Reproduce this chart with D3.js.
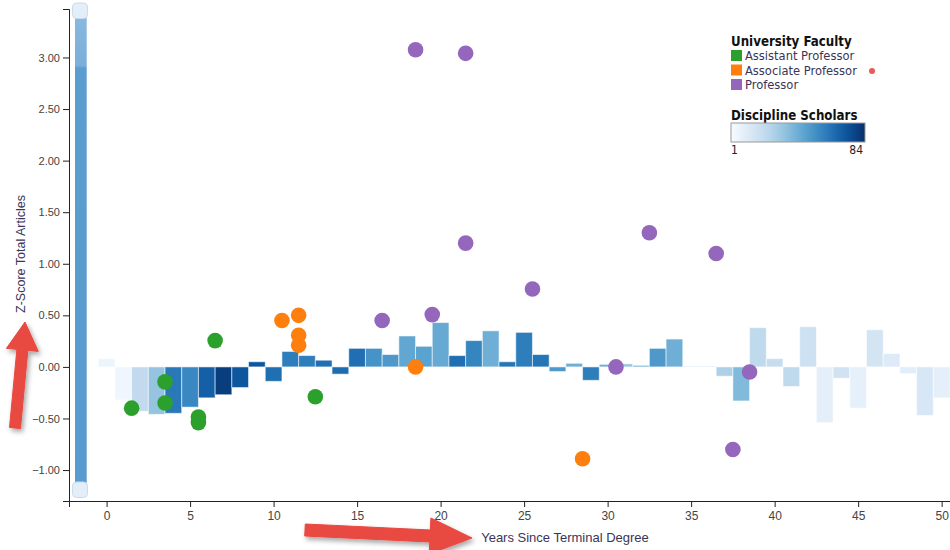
<!DOCTYPE html>
<html>
<head>
<meta charset="utf-8">
<script src="https://cdn.jsdelivr.net/npm/d3@7"></script>
<style>
  html, body { margin: 0; padding: 0; background: #fff; }
  svg { display: block; }
  .tick text { fill: #444; }
</style>
</head>
<body>
<svg id="chart" width="950" height="550"></svg>
<script>
// ---------- DATA ----------
const years = d3.range(0, 51);
const scholarZ = [0.08, -0.32, -0.43, -0.46, -0.45, -0.39, -0.30, -0.27, -0.20, 0.05,
  -0.14, 0.15, 0.11, 0.065, -0.07, 0.18, 0.18, 0.12, 0.30, 0.20,
  0.43, 0.11, 0.255, 0.35, 0.05, 0.335, 0.12, -0.045, 0.035, -0.13,
  0.025, 0.03, 0.015, 0.18, 0.27, 0.007, 0.007, -0.09, -0.33, 0.38,
  0.08, -0.19, 0.39, -0.54, -0.11, -0.40, 0.36, 0.13, -0.065, -0.47, -0.30];
const scholarCount = [5, 4, 22, 34, 61, 56, 69, 80, 72, 72,
  64, 59, 59, 64, 65, 64, 52, 50, 45, 47,
  44, 64, 57, 42, 62, 59, 62, 50, 42, 59,
  42, 33, 42, 50, 42, 22, 22, 28, 38, 23,
  21, 23, 18, 9, 17, 8, 16, 12, 10, 14, 9];

const assistantX = [1.5, 3.5, 3.5, 5.5, 5.5, 6.5, 12.5];
const assistantY = [-0.40, -0.145, -0.35, -0.485, -0.54, 0.255, -0.29];
const associateX = [10.5, 11.5, 11.5, 11.5, 18.5, 28.5];
const associateY = [0.45, 0.50, 0.306, 0.21, 0.0, -0.89];
const professorX = [16.5, 18.5, 19.5, 21.5, 21.5, 25.5, 30.5, 32.5, 36.5, 37.5, 38.5];
const professorY = [0.45, 3.075, 0.507, 3.04, 1.20, 0.756, 0.0, 1.30, 1.10, -0.80, -0.05];

const rankNames = ["Assistant Professor", "Associate Professor", "Professor"];
const rankColors = ["#2ca02c", "#ff7f0e", "#9467bd"];
const xTicks = [0, 5, 10, 15, 20, 25, 30, 35, 40, 45, 50];
const yTicks = [-1, -0.5, 0, 0.5, 1, 1.5, 2, 2.5, 3];
const countRange = [1, 84];

// ---------- SCALES ----------
const svg = d3.select("#chart");
const x = d3.scaleLinear().domain([-2.25, 50.5]).range([69, 950]);
const y = d3.scaleLinear().domain([-1.3, 3.47]).range([501, 9]);
const color = d3.scaleSequential(d3.interpolateBlues).domain(countRange);

// ---------- DEFS ----------
const defs = svg.append("defs");
const grad = defs.append("linearGradient").attr("id", "legendGrad");
d3.range(0, 1.01, 0.1).forEach(t => {
  grad.append("stop").attr("offset", (t * 100) + "%").attr("stop-color", d3.interpolateBlues(t));
});
const sh = defs.append("filter").attr("id", "shadow").attr("x", "-30%").attr("y", "-30%").attr("width", "160%").attr("height", "160%");
sh.append("feDropShadow").attr("dx", 2).attr("dy", 3).attr("stdDeviation", 2.5).attr("flood-color", "#000").attr("flood-opacity", 0.35);
const sg = defs.append("linearGradient").attr("id", "sliderGrad").attr("x1", 0).attr("x2", 0).attr("y1", 0).attr("y2", 1);
sg.append("stop").attr("offset", "0%").attr("stop-color", "#8ab9df");
sg.append("stop").attr("offset", "11%").attr("stop-color", "#79afd9");
sg.append("stop").attr("offset", "11.5%").attr("stop-color", "#5c9dd0");
sg.append("stop").attr("offset", "100%").attr("stop-color", "#5a9bcf");

// ---------- BARS ----------
svg.append("g").selectAll("rect")
  .data(years)
  .join("rect")
  .attr("x", d => x(d - 0.5))
  .attr("width", x(1) - x(0))
  .attr("y", d => y(Math.max(0, scholarZ[d])))
  .attr("height", d => Math.abs(y(scholarZ[d]) - y(0)))
  .attr("fill", d => color(scholarCount[d]))
  .attr("stroke", "#fff")
  .attr("stroke-opacity", 0.55)
  .attr("stroke-width", 1);

// ---------- DOTS ----------
const series = [
  { xs: assistantX, ys: assistantY, c: rankColors[0] },
  { xs: associateX, ys: associateY, c: rankColors[1] },
  { xs: professorX, ys: professorY, c: rankColors[2] }
];
const dotG = svg.append("g");
series.forEach(s => {
  dotG.append("g").selectAll("circle")
    .data(s.xs.map((v, i) => [v, s.ys[i]]))
    .join("circle")
    .attr("cx", d => x(d[0]))
    .attr("cy", d => y(d[1]))
    .attr("r", 7.8)
    .attr("fill", s.c);
});

// ---------- AXES ----------
const yAxis = svg.append("g")
  .attr("transform", `translate(69,0)`)
  .call(d3.axisLeft(y).tickValues(yTicks).tickFormat(d3.format(".2f")).tickSizeOuter(6));
yAxis.selectAll("text").attr("font-family", "Liberation Sans, Arial, sans-serif").attr("font-size", 11).attr("x", -9);
yAxis.selectAll("path, line").attr("stroke", "#222");

const xAxis = svg.append("g")
  .attr("transform", `translate(0,501)`)
  .call(d3.axisBottom(x).tickValues(xTicks).tickFormat(d3.format("d")).tickSizeOuter(6));
xAxis.selectAll("text").attr("font-family", "Liberation Sans Narrow, Arial Narrow, sans-serif").attr("font-size", 12).attr("y", 10);
xAxis.selectAll("path, line").attr("stroke", "#222");

// ---------- SLIDER ----------
svg.append("rect").attr("x", 75).attr("y", 14).attr("width", 11.7).attr("height", 470)
  .attr("fill", "url(#sliderGrad)");
[[72.5, 3], [72.5, 482]].forEach(p => {
  svg.append("rect").attr("x", p[0]).attr("y", p[1]).attr("width", 15).attr("height", 15.5)
    .attr("rx", 4).attr("fill", "#e3eef9").attr("stroke", "#c9dcef").attr("stroke-width", 1);
});

// ---------- AXIS LABELS ----------
svg.append("text")
  .attr("transform", "translate(25,254) rotate(-90)")
  .attr("text-anchor", "middle")
  .attr("font-family", "Liberation Sans Narrow, Arial Narrow, sans-serif")
  .attr("font-size", 12.5)
  .attr("fill", "#3a3558")
  .text("Z-Score Total Articles");
svg.append("text")
  .attr("x", 565).attr("y", 542)
  .attr("text-anchor", "middle")
  .attr("font-family", "Liberation Sans Narrow, Arial Narrow, sans-serif")
  .attr("font-size", 13)
  .attr("fill", "#3a3558")
  .text("Years Since Terminal Degree");

// ---------- LEGEND ----------
const lg = svg.append("g").attr("font-family", "DejaVu Sans Condensed, DejaVu Sans, Verdana, sans-serif");
lg.append("text").attr("x", 731).attr("y", 46).attr("font-size", 13.2).attr("font-weight", "bold")
  .attr("fill", "#111").text("University Faculty");
rankNames.forEach((n, i) => {
  lg.append("rect").attr("x", 731).attr("y", 50 + i * 14.5).attr("width", 11).attr("height", 11).attr("fill", rankColors[i]);
  lg.append("text").attr("x", 745).attr("y", 60 + i * 14.5).attr("font-size", 12.8).attr("fill", "#3a3558").text(n);
});
lg.append("text").attr("x", 731).attr("y", 120).attr("font-size", 13.2).attr("font-weight", "bold")
  .attr("fill", "#111").text("Discipline Scholars");
lg.append("rect").attr("x", 731).attr("y", 123).attr("width", 134).attr("height", 19)
  .attr("fill", "url(#legendGrad)").attr("stroke", "#999").attr("stroke-width", 1);
lg.append("text").attr("x", 731).attr("y", 154).attr("font-size", 12).attr("fill", "#222").text(countRange[0]);
lg.append("text").attr("x", 863).attr("y", 154).attr("font-size", 12).attr("text-anchor", "end").attr("fill", "#222").text(countRange[1]);

// ---------- ANNOTATION ARROWS ----------
function arrowPath(x0, y0, x1, y1, shaft, headW, headL) {
  const dx = x1 - x0, dy = y1 - y0, L = Math.hypot(dx, dy);
  const ux = dx / L, uy = dy / L, nx = -uy, ny = ux;
  const bx = x1 - ux * headL, by = y1 - uy * headL;
  const p = [
    [x0 + nx * shaft / 2, y0 + ny * shaft / 2],
    [bx + nx * shaft / 2, by + ny * shaft / 2],
    [bx + nx * headW / 2, by + ny * headW / 2],
    [x1, y1],
    [bx - nx * headW / 2, by - ny * headW / 2],
    [bx - nx * shaft / 2, by - ny * shaft / 2],
    [x0 - nx * shaft / 2, y0 - ny * shaft / 2]
  ];
  return "M" + p.map(q => q.join(",")).join("L") + "Z";
}
const ag = svg.append("g").attr("filter", "url(#shadow)");
ag.append("path").attr("d", arrowPath(15, 428, 25, 322, 11, 32, 28)).attr("fill", "#e8483f")
  .attr("stroke", "#e8483f").attr("stroke-width", 1).attr("stroke-linejoin", "round");
ag.append("path").attr("d", arrowPath(305, 530, 472, 538, 12, 36, 42)).attr("fill", "#e8483f")
  .attr("stroke", "#e8483f").attr("stroke-width", 1).attr("stroke-linejoin", "round");
svg.append("circle").attr("cx", 872).attr("cy", 71).attr("r", 3).attr("fill", "#e85a5a");
</script>
</body>
</html>
